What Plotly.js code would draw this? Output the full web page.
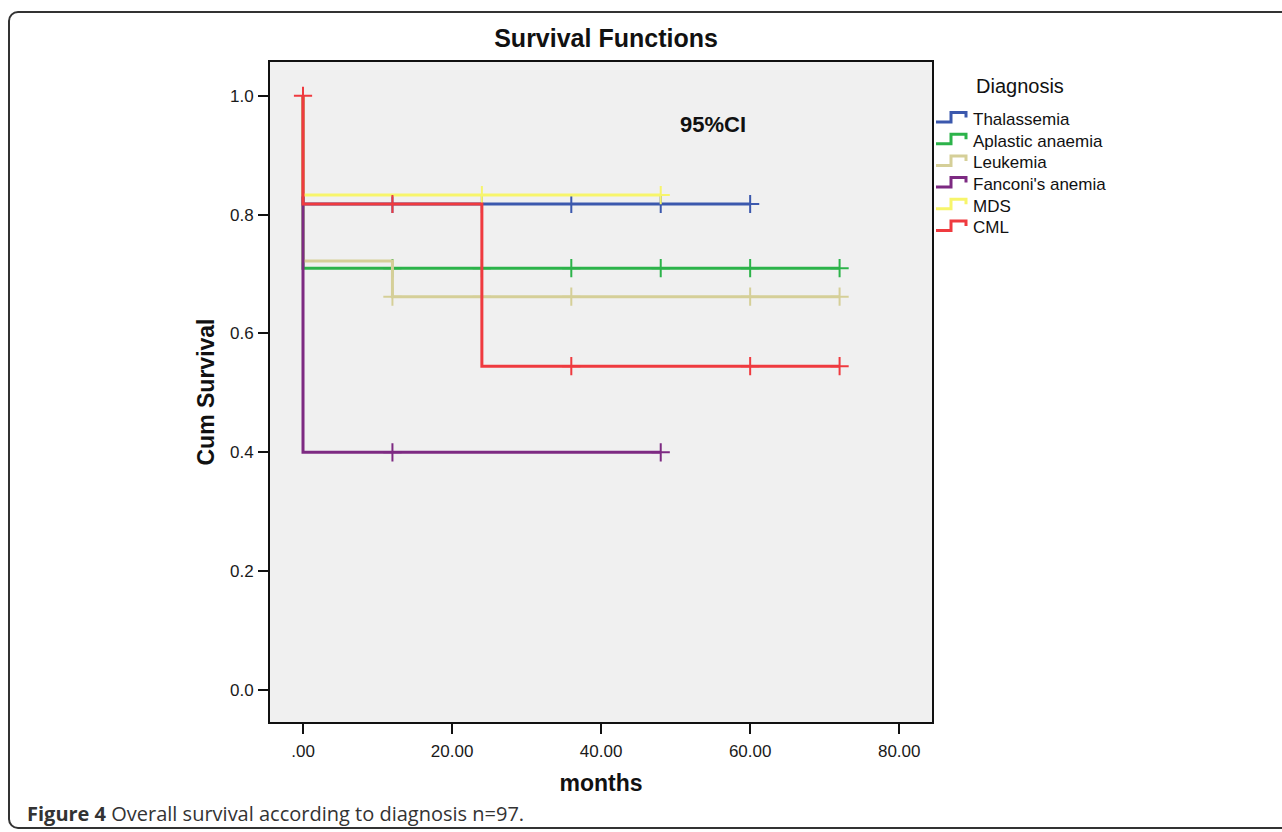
<!DOCTYPE html>
<html>
<head>
<meta charset="utf-8">
<script src="https://cdn.plot.ly/plotly-3.0.1.min.js"></script>
<style>
html,body{margin:0;padding:0;background:#fff;width:1282px;height:832px;overflow:hidden;}
#frame{position:absolute;left:8px;top:11px;width:1300px;height:818px;border:2px solid #333;border-radius:10px;box-sizing:border-box;}
#chart{position:absolute;left:0;top:0;width:1282px;height:832px;}
</style>
</head>
<body>
<div id="frame"></div>
<div id="chart"></div>
<script>
// ---- data ----
const diagnoses = ["Thalassemia", "Aplastic anaemia", "Leukemia", "Fanconi's anemia", "MDS", "CML"];
const colors = ["#3b58ad", "#2cb34a", "#d5cf98", "#7d2a82", "#f7f56b", "#ef3a3f"];

const thalTime = [0, 0, 60];
const thalSurv = [1.0, 0.818, 0.818];
const thalCensT = [12, 24, 36, 48, 60];
const thalCensS = [0.818, 0.818, 0.818, 0.818, 0.818];

const aplaTime = [0, 0, 72];
const aplaSurv = [1.0, 0.710, 0.710];
const aplaCensT = [12, 24, 36, 48, 60, 72];
const aplaCensS = [0.710, 0.710, 0.710, 0.710, 0.710, 0.710];

const leukTime = [0, 0, 12, 72];
const leukSurv = [1.0, 0.722, 0.662, 0.662];
const leukCensT = [12, 24, 36, 60, 72];
const leukCensS = [0.662, 0.662, 0.662, 0.662, 0.662];

const fancTime = [0, 0, 48];
const fancSurv = [1.0, 0.400, 0.400];
const fancCensT = [12, 48];
const fancCensS = [0.400, 0.400];

const mdsTime = [0, 0, 48];
const mdsSurv = [1.0, 0.833, 0.833];
const mdsCensT = [24, 48];
const mdsCensS = [0.833, 0.833];

const cmlTime = [0, 0, 24, 72];
const cmlSurv = [1.0, 0.818, 0.545, 0.545];
const cmlCensT = [0, 12, 36, 60, 72];
const cmlCensS = [1.0, 0.818, 0.545, 0.545, 0.545];

const xTickVals = [0, 20, 40, 60, 80];
const xTickText = [".00", "20.00", "40.00", "60.00", "80.00"];

// ---- build traces ----
const series = [
  [thalTime, thalSurv, thalCensT, thalCensS],
  [aplaTime, aplaSurv, aplaCensT, aplaCensS],
  [leukTime, leukSurv, leukCensT, leukCensS],
  [fancTime, fancSurv, fancCensT, fancCensS],
  [mdsTime, mdsSurv, mdsCensT, mdsCensS],
  [cmlTime, cmlSurv, cmlCensT, cmlCensS]
];

const traces = [];
series.forEach((s, i) => {
  traces.push({
    type: "scatter", mode: "lines", name: diagnoses[i],
    x: s[0], y: s[1], showlegend: false,
    line: {shape: "hv", color: colors[i], width: 3},
    hoverinfo: "skip"
  });
  traces.push({
    type: "scatter", mode: "markers", name: diagnoses[i] + " censored",
    x: s[2], y: s[3], showlegend: false,
    marker: {symbol: "cross-thin", size: 13, line: {color: colors[i], width: 2}},
    hoverinfo: "skip"
  });
});

const FONT = "Liberation Sans, Arial, sans-serif";

// plot area in pixels: left 270, right 932, top 62, bottom 722
const PL = 270, PR = 932, PT = 62, PB = 722;
const px2paper = px => (px - PL) / (PR - PL);
const py2paper = py => (PB - py) / (PB - PT);

// ---- legend drawn as a key with SPSS-style step icons ----
const annotations = [
  {
    text: "<b>95%CI</b>", x: 55, y: 0.951, xref: "x", yref: "y",
    showarrow: false, font: {family: FONT, size: 22, color: "#111"},
    xanchor: "center", yanchor: "middle"
  },
  {
    text: "<b>Figure 4</b> Overall survival according to diagnosis n=97.",
    x: px2paper(25), y: py2paper(813), xref: "paper", yref: "paper",
    xanchor: "left", yanchor: "middle", showarrow: false,
    font: {family: "Open Sans, Noto Sans, sans-serif", size: 20, color: "#333"}
  },
  {
    text: "Diagnosis", x: px2paper(1020), y: py2paper(86), xref: "paper", yref: "paper",
    xanchor: "center", yanchor: "middle", showarrow: false,
    font: {family: FONT, size: 20, color: "#111"}
  }
];
const shapes = [];
diagnoses.forEach((name, i) => {
  const c = 119.5 + i * 21.7;
  annotations.push({
    text: name, x: px2paper(971), y: py2paper(c), xref: "paper", yref: "paper",
    xanchor: "left", yanchor: "middle", showarrow: false,
    font: {family: FONT, size: 17, color: "#111"}
  });
  const pts = [[936, c + 2.5], [951, c + 2.5], [951, c - 7], [966, c - 7], [966, c - 2]];
  shapes.push({
    type: "path", xref: "paper", yref: "paper",
    path: pts.map((p, k) => (k ? "L" : "M") + px2paper(p[0]) + "," + py2paper(p[1])).join(" "),
    line: {color: colors[i], width: 3}
  });
});

const layout = {
  width: 1282, height: 832,
  margin: {l: 270, r: 350, t: 62, b: 110},
  paper_bgcolor: "rgba(0,0,0,0)",
  plot_bgcolor: "#f0f0f0",
  font: {family: FONT, color: "#1a1a1a"},
  showlegend: false,
  title: {
    text: "<b>Survival Functions</b>",
    font: {family: FONT, size: 25, color: "#111"},
    x: 0.5076, xref: "paper", xanchor: "center",
    y: 1 - 38 / 832, yref: "container", yanchor: "middle"
  },
  xaxis: {
    range: [-4.43, 84.4],
    tickvals: xTickVals, ticktext: xTickText,
    ticks: "outside", ticklen: 10, tickwidth: 2, tickcolor: "#111",
    ticklabelstandoff: 3,
    tickfont: {family: FONT, size: 17, color: "#1a1a1a"},
    showgrid: false, zeroline: false,
    showline: true, linecolor: "#111", linewidth: 2, mirror: true,
    title: {text: "<b>months</b>", font: {family: FONT, size: 23, color: "#111"}, standoff: 14}
  },
  yaxis: {
    range: [-0.054, 1.057],
    tick0: 0, dtick: 0.2, tickformat: ".1f",
    ticks: "outside", ticklen: 10, tickwidth: 2, tickcolor: "#111",
    ticklabelstandoff: 1,
    tickfont: {family: FONT, size: 17, color: "#1a1a1a"},
    showgrid: false, zeroline: false,
    showline: true, linecolor: "#111", linewidth: 2, mirror: true,
    title: {text: "<b>Cum Survival</b>", font: {family: FONT, size: 23, color: "#111"}, standoff: 9}
  },
  annotations: annotations,
  shapes: shapes
};

Plotly.newPlot("chart", traces, layout, {displayModeBar: false, staticPlot: true});
</script>
</body>
</html>
